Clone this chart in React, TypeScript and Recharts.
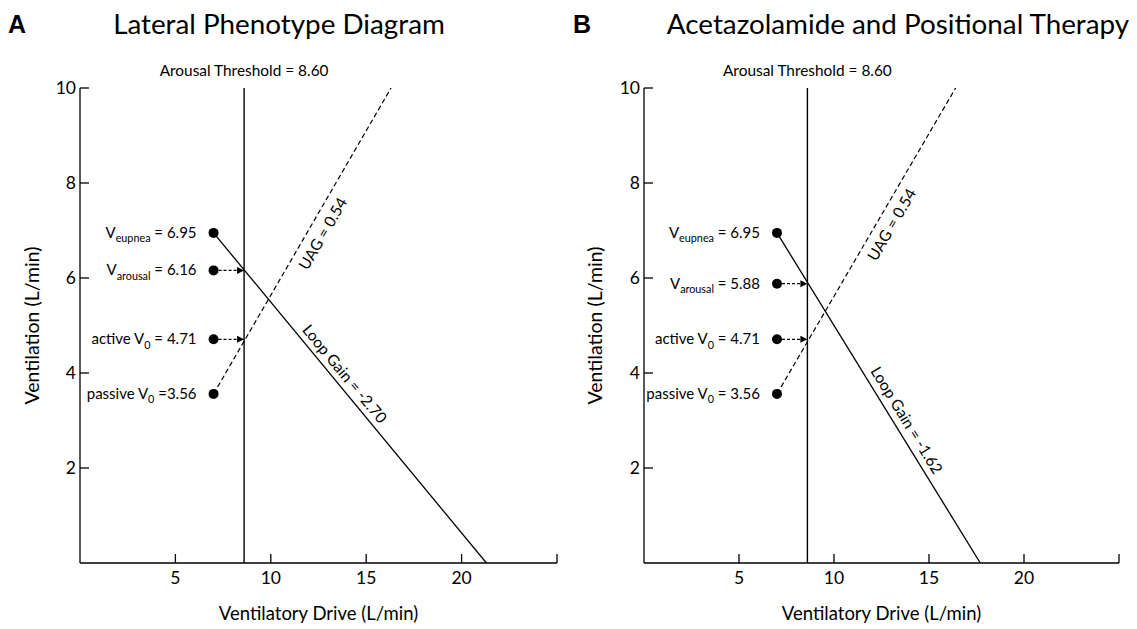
import React from 'react';
import { ComposedChart, Line, XAxis, YAxis, ReferenceLine, ReferenceDot } from 'recharts';

const FONT = 'Lato, "Open Sans", sans-serif';

// axes
const xDomain = [0, 25];
const yDomain = [0, 10];
const xTicks = [5, 10, 15, 20, 25];
const yTicks = [2, 4, 6, 8, 10];
const xTickLabels = ['5', '10', '15', '20', ''];

// shared
const arousalThreshold = 8.6;
const pointDrive = 7;
const labelPrefix = ['V', 'V', 'active V', 'passive V'];
const labelSub = ['eupnea', 'arousal', '0', '0'];
const arrowIndex = [1, 2];

// Panel A
const aVentilation = [6.95, 6.16, 4.71, 3.56];
const aEquals = [' = ', ' = ', ' = ', ' ='];
const aLoopGainLine = [{ x: 7, y: 6.95 }, { x: 21.3, y: 0 }];
const aUagLine = [{ x: 7, y: 3.56 }, { x: 16.3, y: 10 }];
const aLoopGain = -2.7;
const aUag = 0.54;

// Panel B
const bVentilation = [6.95, 5.88, 4.71, 3.56];
const bEquals = [' = ', ' = ', ' = ', ' = '];
const bLoopGainLine = [{ x: 7, y: 6.95 }, { x: 17.7, y: 0 }];
const bUagLine = [{ x: 7, y: 3.56 }, { x: 16.4, y: 10 }];
const bLoopGain = -1.62;
const bUag = 0.54;

// annotation anchors (data coords) and angles
const aUagAnchor = { x: 12.71, y: 6.94, angle: -59.9 };
const aLoopAnchor = { x: 13.89, y: 3.99, angle: 50.4 };
const bUagAnchor = { x: 13.02, y: 7.13, angle: -59.8 };
const bLoopAnchor = { x: 13.85, y: 3.01, angle: 58.5 };

type PanelProps = {
  left: number;
  width: number;
  yAxisWidth: number;
  rightMargin: number;
  vent: number[];
  eq: string[];
  loopLine: { x: number; y: number }[];
  uagLine: { x: number; y: number }[];
  loopGain: number;
  uag: number;
  uagAnchor: { x: number; y: number; angle: number };
  loopAnchor: { x: number; y: number; angle: number };
};

function rotatedText(text: string, angle: number) {
  return (p: any) => (
    <text
      x={p.cx}
      y={p.cy}
      transform={`rotate(${angle}, ${p.cx}, ${p.cy})`}
      textAnchor="middle"
      dominantBaseline="central"
      fontFamily={FONT}
      fontSize={15.5}
      fill="#000"
    >
      {text}
    </text>
  );
}

function Panel(props: PanelProps) {
  const { left, width, yAxisWidth, rightMargin, vent, eq, loopLine, uagLine, loopGain, uag, uagAnchor, loopAnchor } = props;
  return (
    <div style={{ position: 'absolute', left, top: 0 }}>
      <ComposedChart width={width} height={629} margin={{ top: 88, right: rightMargin, left: 0, bottom: 0 }}>
        <XAxis
          type="number"
          dataKey="x"
          domain={xDomain}
          ticks={xTicks}
          interval={0}
          height={66}
          tickSize={-9}
          tickMargin={18}
          tickFormatter={(v: number) => xTickLabels[xTicks.indexOf(v)] ?? ''}
          axisLine={{ stroke: '#000', strokeWidth: 1.3 }}
          tickLine={{ stroke: '#000', strokeWidth: 1.3 }}
          tick={{ fill: '#000', fontSize: 17.5, fontFamily: FONT }}
          allowDataOverflow
          label={{
            content: (lp: any) => {
              const vb = lp.viewBox || { x: 0, y: 0, width: 0, height: 0 };
              return (
                <text x={vb.x + vb.width / 2} y={vb.y + 57} textAnchor="middle" fontFamily={FONT} fontSize={18.5} fill="#000">
                  Ventilatory Drive (L/min)
                </text>
              );
            },
          }}
        />
        <YAxis
          type="number"
          domain={yDomain}
          ticks={yTicks}
          interval={0}
          width={yAxisWidth}
          tickSize={-9}
          tickMargin={13}
          axisLine={{ stroke: '#000', strokeWidth: 1.3 }}
          tickLine={{ stroke: '#000', strokeWidth: 1.3 }}
          tick={{ fill: '#000', fontSize: 17.5, fontFamily: FONT }}
          allowDataOverflow
          label={{
            content: (lp: any) => {
              const vb = lp.viewBox || { x: 0, y: 0, width: 0, height: 0 };
              const cx = vb.x + 31;
              const cy = vb.y + vb.height / 2;
              return (
                <text
                  x={cx}
                  y={cy}
                  transform={`rotate(-90, ${cx}, ${cy})`}
                  textAnchor="middle"
                  dominantBaseline="central"
                  fontFamily={FONT}
                  fontSize={19.5}
                  fill="#000"
                >
                  Ventilation (L/min)
                </text>
              );
            },
          }}
        />
        <ReferenceLine
          x={arousalThreshold}
          stroke="#000"
          strokeWidth={1.4}
          label={{
            value: `Arousal Threshold = ${arousalThreshold.toFixed(2)}`,
            position: 'top',
            offset: 12,
            fill: '#000',
            fontSize: 15.4,
            fontFamily: FONT,
          }}
        />
        <Line data={loopLine} dataKey="y" type="linear" stroke="#000" strokeWidth={1.3} dot={false} activeDot={false} isAnimationActive={false} />
        <Line data={uagLine} dataKey="y" type="linear" stroke="#000" strokeWidth={1.2} strokeDasharray="5 3" dot={false} activeDot={false} isAnimationActive={false} />
        {arrowIndex.map((i) => (
          <ReferenceLine
            key={`arrow-${i}`}
            segment={[
              { x: pointDrive, y: vent[i] },
              { x: arousalThreshold, y: vent[i] },
            ]}
            stroke="#000"
            strokeWidth={1.2}
            strokeDasharray="3 2"
          />
        ))}
        {arrowIndex.map((i) => (
          <ReferenceDot
            key={`head-${i}`}
            x={arousalThreshold}
            y={vent[i]}
            r={3}
            shape={(p: any) => (
              <polygon points={`${p.cx},${p.cy} ${p.cx - 7},${p.cy - 3.5} ${p.cx - 7},${p.cy + 3.5}`} fill="#000" />
            )}
          />
        ))}
        {vent.map((v, i) => (
          <ReferenceDot
            key={`dot-${i}`}
            x={pointDrive}
            y={v}
            r={5}
            shape={(p: any) => (
              <g>
                <circle cx={p.cx} cy={p.cy} r={5} fill="#000" />
                <text x={p.cx - 17} y={p.cy + 5} textAnchor="end" fontFamily={FONT} fontSize={15} fill="#000">
                  {labelPrefix[i]}
                  <tspan fontSize={10.8} dy={4.5}>
                    {labelSub[i]}
                  </tspan>
                  <tspan dy={-4.5}>{`${eq[i]}${v.toFixed(2)}`}</tspan>
                </text>
              </g>
            )}
          />
        ))}
        <ReferenceDot x={uagAnchor.x} y={uagAnchor.y} r={1} shape={rotatedText(`UAG = ${uag.toFixed(2)}`, uagAnchor.angle)} />
        <ReferenceDot x={loopAnchor.x} y={loopAnchor.y} r={1} shape={rotatedText(`Loop Gain = ${loopGain.toFixed(2)}`, loopAnchor.angle)} />
      </ComposedChart>
    </div>
  );
}

export default function App() {
  return (
    <div style={{ position: 'absolute', left: 0, top: 0, width: 1137, height: 629, background: '#fff', overflow: 'hidden' }}>
      <svg width={1137} height={629} style={{ position: 'absolute', left: 0, top: 0 }}>
        <text x={8} y={33} fontFamily='"Liberation Sans", Arial, sans-serif' fontWeight="bold" fontSize={25} fill="#000">A</text>
        <text x={279} y={34} textAnchor="middle" fontFamily={FONT} fontSize={27.8} fill="#000">Lateral Phenotype Diagram</text>
        <text x={573} y={33} fontFamily='"Liberation Sans", Arial, sans-serif' fontWeight="bold" fontSize={25} fill="#000">B</text>
        <text x={898} y={34} textAnchor="middle" fontFamily={FONT} fontSize={27.8} fill="#000">Acetazolamide and Positional Therapy</text>
      </svg>
      <Panel
        left={0}
        width={568}
        yAxisWidth={80}
        rightMargin={11}
        vent={aVentilation}
        eq={aEquals}
        loopLine={aLoopGainLine}
        uagLine={aUagLine}
        loopGain={aLoopGain}
        uag={aUag}
        uagAnchor={aUagAnchor}
        loopAnchor={aLoopAnchor}
      />
      <Panel
        left={563}
        width={574}
        yAxisWidth={81}
        rightMargin={18}
        vent={bVentilation}
        eq={bEquals}
        loopLine={bLoopGainLine}
        uagLine={bUagLine}
        loopGain={bLoopGain}
        uag={bUag}
        uagAnchor={bUagAnchor}
        loopAnchor={bLoopAnchor}
      />
    </div>
  );
}
